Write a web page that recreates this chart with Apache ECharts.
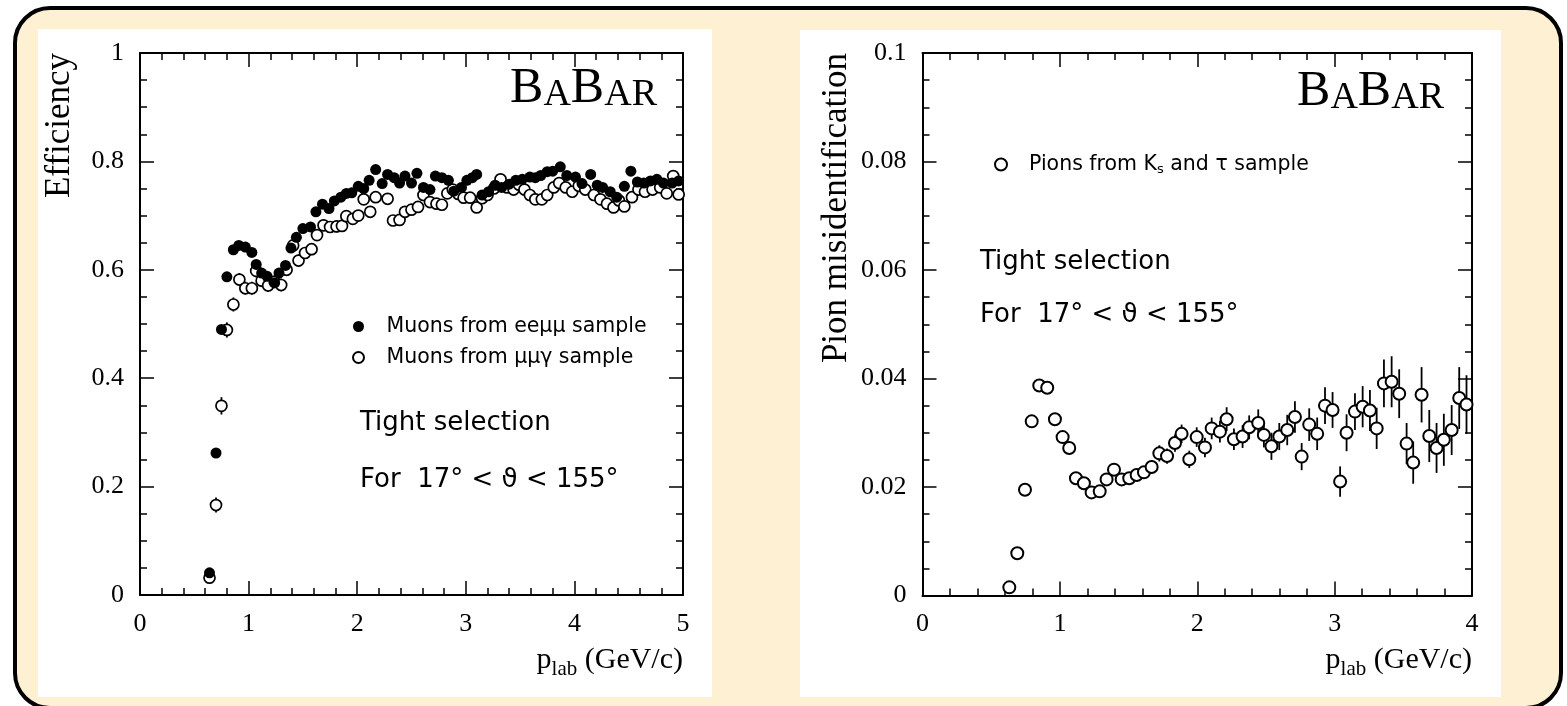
<!DOCTYPE html>
<html>
<head>
<meta charset="utf-8">
<title>Muon efficiency and pion misidentification</title>
<script src="https://cdn.jsdelivr.net/npm/echarts@6/dist/echarts.min.js"></script>
<style>
  html, body { margin: 0; padding: 0; background: #fff; }
  #chart { width: 1567px; height: 706px; }
</style>
</head>
<body>
<div id="chart"></div>
<script>
// left panel: muon efficiency, two samples
var muEeP = [0.64, 0.70, 0.75, 0.80, 0.86, 0.91, 0.97, 1.03, 1.07, 1.12,
    1.17, 1.24, 1.28, 1.34, 1.39, 1.44, 1.50, 1.57, 1.62, 1.68,
    1.74, 1.79, 1.85, 1.90, 1.95, 2.01, 2.06, 2.11, 2.17, 2.23,
    2.28, 2.34, 2.39, 2.44, 2.50, 2.55, 2.61, 2.67, 2.72, 2.78,
    2.84, 2.89, 2.96, 3.01, 3.06, 3.10, 3.15, 3.21, 3.27, 3.33,
    3.40, 3.46, 3.52, 3.59, 3.64, 3.69, 3.75, 3.80, 3.87, 3.93,
    4.01, 4.07, 4.15, 4.21, 4.26, 4.33, 4.39, 4.46, 4.52, 4.58,
    4.64, 4.70, 4.76, 4.82, 4.90, 4.96];
var muEeEff = [0.041, 0.262, 0.490, 0.587, 0.637, 0.645, 0.642, 0.632, 0.610, 0.594,
    0.588, 0.576, 0.594, 0.608, 0.640, 0.660, 0.676, 0.679, 0.707, 0.721,
    0.713, 0.727, 0.734, 0.741, 0.742, 0.754, 0.750, 0.765, 0.785, 0.759,
    0.776, 0.770, 0.760, 0.773, 0.760, 0.778, 0.752, 0.748, 0.773, 0.770,
    0.765, 0.745, 0.752, 0.765, 0.770, 0.776, 0.738, 0.744, 0.756, 0.752,
    0.758, 0.765, 0.767, 0.771, 0.770, 0.774, 0.781, 0.782, 0.790, 0.774,
    0.771, 0.759, 0.776, 0.756, 0.752, 0.744, 0.734, 0.754, 0.782, 0.762,
    0.760, 0.764, 0.767, 0.760, 0.760, 0.764];

var muGamP = [0.64, 0.70, 0.75, 0.80, 0.86, 0.915, 0.97, 1.03, 1.07, 1.12,
    1.18, 1.24, 1.30, 1.35, 1.41, 1.46, 1.52, 1.58, 1.63, 1.69,
    1.75, 1.81, 1.86, 1.90, 1.96, 2.01, 2.06, 2.12, 2.17, 2.28,
    2.33, 2.39, 2.44, 2.50, 2.56, 2.61, 2.67, 2.73, 2.78, 2.83,
    2.88, 2.93, 2.98, 3.04, 3.10, 3.15, 3.20, 3.26, 3.32, 3.38,
    3.44, 3.49, 3.54, 3.59, 3.64, 3.70, 3.75, 3.81, 3.86, 3.92,
    3.98, 4.04, 4.10, 4.18, 4.24, 4.30, 4.36, 4.41, 4.46, 4.53,
    4.59, 4.65, 4.72, 4.79, 4.85, 4.91, 4.96];
var muGamEff = [0.032, 0.166, 0.349, 0.489, 0.536, 0.582, 0.566, 0.566, 0.598, 0.580,
    0.571, 0.578, 0.572, 0.600, 0.645, 0.617, 0.631, 0.638, 0.664, 0.682,
    0.679, 0.680, 0.681, 0.699, 0.694, 0.700, 0.730, 0.707, 0.734, 0.731,
    0.691, 0.692, 0.707, 0.711, 0.716, 0.738, 0.725, 0.722, 0.720, 0.741,
    0.748, 0.740, 0.733, 0.733, 0.715, 0.732, 0.738, 0.750, 0.767, 0.752,
    0.748, 0.757, 0.748, 0.738, 0.730, 0.730, 0.738, 0.752, 0.760, 0.752,
    0.744, 0.755, 0.748, 0.738, 0.730, 0.722, 0.715, 0.728, 0.717, 0.734,
    0.748, 0.744, 0.748, 0.752, 0.741, 0.773, 0.739];
var muGamErr = [0.006, 0.014, 0.016, 0.014, 0.013, 0.012, 0.012, 0.012, 0.012, 0.012,
    0.012, 0.012, 0.012, 0.011, 0.011, 0.011, 0.011, 0.011, 0.011, 0.011,
    0.011, 0.011, 0.010, 0.010, 0.010, 0.010, 0.010, 0.010, 0.010, 0.010,
    0.010, 0.010, 0.010, 0.010, 0.010, 0.010, 0.010, 0.010, 0.010, 0.010,
    0.010, 0.010, 0.010, 0.010, 0.010, 0.010, 0.010, 0.010, 0.010, 0.010,
    0.010, 0.010, 0.010, 0.010, 0.010, 0.010, 0.010, 0.010, 0.010, 0.010,
    0.010, 0.010, 0.010, 0.010, 0.010, 0.010, 0.010, 0.010, 0.010, 0.010,
    0.010, 0.010, 0.010, 0.010, 0.010, 0.010, 0.010];

// right panel: pion misidentification
var pionP = [0.632, 0.69, 0.746, 0.795, 0.85, 0.908, 0.964, 1.02, 1.068, 1.117,
    1.175, 1.231, 1.29, 1.34, 1.394, 1.45, 1.505, 1.559, 1.612, 1.668,
    1.724, 1.78, 1.838, 1.886, 1.942, 1.996, 2.056, 2.105, 2.165, 2.214,
    2.267, 2.33, 2.378, 2.444, 2.485, 2.54, 2.597, 2.655, 2.711, 2.76,
    2.815, 2.873, 2.93, 2.985, 3.04, 3.087, 3.148, 3.204, 3.257, 3.306,
    3.359, 3.415, 3.47, 3.524, 3.572, 3.633, 3.689, 3.742, 3.795, 3.852,
    3.907, 3.96];
var pionMis = [0.0015, 0.0078, 0.0195, 0.0321, 0.0387, 0.0383, 0.0325, 0.0292, 0.0272, 0.0216,
    0.0207, 0.019, 0.0192, 0.0214, 0.0232, 0.0214, 0.0216, 0.0222, 0.0227, 0.0237,
    0.0262, 0.0257, 0.0281, 0.0298, 0.0251, 0.0292, 0.0273, 0.0308, 0.0302, 0.0325,
    0.0288, 0.0293, 0.031, 0.0318, 0.0296, 0.0275, 0.0293, 0.0305, 0.0329, 0.0256,
    0.0315, 0.0298, 0.035, 0.0342, 0.021, 0.030, 0.0339, 0.0348, 0.0341, 0.0308,
    0.0391, 0.0394, 0.0372, 0.028, 0.0245, 0.037, 0.0294, 0.0272, 0.0287, 0.0305,
    0.0364, 0.0352];
var pionErr = [0.0004, 0.0005, 0.0006, 0.0008, 0.0009, 0.0009, 0.0009, 0.0009, 0.0009, 0.0009,
    0.0009, 0.0009, 0.0009, 0.001, 0.001, 0.001, 0.001, 0.0011, 0.0011, 0.0012,
    0.0015, 0.0014, 0.0016, 0.0017, 0.0016, 0.0018, 0.0018, 0.002, 0.002, 0.0022,
    0.002, 0.0021, 0.0022, 0.0025, 0.0023, 0.0025, 0.0025, 0.0028, 0.0029, 0.0025,
    0.003, 0.003, 0.0034, 0.0033, 0.0028, 0.0034, 0.0034, 0.0038, 0.0038, 0.0038,
    0.0044, 0.0047, 0.0045, 0.0038, 0.0039, 0.0051, 0.0048, 0.0046, 0.0048, 0.0046,
    0.0057, 0.0054];

var serif = "'Liberation Serif', 'Times New Roman', serif";
var sans = "'DejaVu Sans', sans-serif";

var zip = function (xs, ys) {
    return xs.map(function (x, i) { return [x, ys[i]]; });
};

// value axis in ROOT style: ticks pointing inward, mirrored on the far side
var makeAxis = function (grid, pos, max, step, minorSplit, labels) {
    return {
        type: 'value', gridIndex: grid, position: pos,
        min: 0, max: max, interval: step,
        axisLine: { show: true, onZero: false, lineStyle: { color: '#000', width: 2 } },
        axisTick: { show: true, inside: true, length: 14, lineStyle: { color: '#000', width: 1.5 } },
        minorTick: { show: true, splitNumber: minorSplit, length: 7, lineStyle: { color: '#000', width: 1.5 } },
        splitLine: { show: false },
        axisLabel: { show: labels, color: '#000', fontFamily: serif, fontSize: 26, margin: 16 }
    };
};

var errorBars = function (xs, ys, errs, xi, yi) {
    return {
        type: 'custom', xAxisIndex: xi, yAxisIndex: yi, z: 2, silent: true,
        data: xs.map(function (x, i) { return [x, ys[i] - errs[i], ys[i] + errs[i]]; }),
        renderItem: function (params, api) {
            var lo = api.coord([api.value(0), api.value(1)]);
            var hi = api.coord([api.value(0), api.value(2)]);
            return {
                type: 'line',
                shape: { x1: lo[0], y1: lo[1], x2: hi[0], y2: hi[1] },
                style: { stroke: '#000', lineWidth: 1.8 }
            };
        }
    };
};

var text = function (x, y, str, font, extra) {
    var style = { text: str, font: font, fill: '#000', align: 'left', verticalAlign: 'middle' };
    for (var k in extra) style[k] = extra[k];
    return { type: 'text', x: x, y: y, z: 100, style: style };
};

var babar = function (x, y) {
    return text(x, y, '{b|B}{s|A}{b|B}{s|AR}', '50px ' + serif, {
        align: 'right', verticalAlign: 'bottom',
        rich: {
            b: { fontFamily: serif, fontSize: 50, lineHeight: 50, verticalAlign: 'bottom' },
            s: { fontFamily: serif, fontSize: 38, lineHeight: 42, verticalAlign: 'bottom' }
        }
    });
};

var plab = function (x, y) {
    return text(x, y, '{m|p}{s|lab}{m| (GeV/c)}', '30px ' + serif, {
        align: 'right', verticalAlign: 'middle',
        rich: {
            m: { fontFamily: serif, fontSize: 30, lineHeight: 40, verticalAlign: 'middle' },
            s: { fontFamily: serif, fontSize: 21, lineHeight: 21, verticalAlign: 'bottom' }
        }
    });
};

var yTitle = function (x, y, str) {
    var t = text(x, y, str, '35px ' + serif, { align: 'right', verticalAlign: 'middle' });
    t.rotation = Math.PI / 2;
    return t;
};

var chart = echarts.init(document.getElementById('chart'));

chart.setOption({
    animation: false,
    backgroundColor: '#fff',
    grid: [
        { left: 140, top: 53, width: 543, height: 542 },
        { left: 922.5, top: 53, width: 549.5, height: 542.5 }
    ],
    xAxis: [
        makeAxis(0, 'bottom', 5, 1, 5, true),
        makeAxis(0, 'top', 5, 1, 5, false),
        makeAxis(1, 'bottom', 4, 1, 5, true),
        makeAxis(1, 'top', 4, 1, 5, false)
    ],
    yAxis: [
        makeAxis(0, 'left', 1, 0.2, 4, true),
        makeAxis(0, 'right', 1, 0.2, 4, false),
        makeAxis(1, 'left', 0.1, 0.02, 4, true),
        makeAxis(1, 'right', 0.1, 0.02, 4, false)
    ],
    legend: [
        {
            data: ['Muons from eeμμ sample', 'Muons from μμγ sample'],
            orient: 'vertical', left: 352, top: 316, padding: 0,
            itemWidth: 46, itemHeight: 11, itemGap: 10, selectedMode: false,
            textStyle: { fontFamily: sans, fontSize: 20.5, lineHeight: 18, color: '#000' }
        },
        {
            data: ['Pions from Ks and τ sample'],
            orient: 'vertical', left: 994, top: 154, padding: 0,
            itemWidth: 46, itemHeight: 12, selectedMode: false,
            formatter: function () { return '{a|Pions from K}{s|s}{a| and τ sample}'; },
            textStyle: {
                fontFamily: sans, fontSize: 20.5, color: '#000',
                rich: {
                    a: { fontFamily: sans, fontSize: 20.5, lineHeight: 24, verticalAlign: 'middle' },
                    s: { fontFamily: sans, fontSize: 13, lineHeight: 13, verticalAlign: 'bottom' }
                }
            }
        }
    ],
    graphic: [
        { type: 'rect', z: -100, shape: { x: 15, y: 8, width: 1546, height: 700, r: 35 },
          style: { fill: '#fef1d3', stroke: '#000', lineWidth: 4 } },
        { type: 'rect', z: -90, shape: { x: 38, y: 29, width: 674, height: 668 }, style: { fill: '#fff' } },
        { type: 'rect', z: -90, shape: { x: 800, y: 30, width: 701, height: 667 }, style: { fill: '#fff' } },
        yTitle(60, 53, 'Efficiency'),
        yTitle(837, 53, 'Pion misidentification'),
        plab(683, 660),
        plab(1472, 660),
        babar(657, 114),
        babar(1444, 117),
        text(360, 423, 'Tight selection', '26px ' + sans),
        text(360, 480, 'For  17° < ϑ < 155°', '26px ' + sans),
        text(980, 262, 'Tight selection', '26px ' + sans),
        text(980, 315, 'For  17° < ϑ < 155°', '26px ' + sans)
    ],
    series: [
        errorBars(muGamP, muGamEff, muGamErr, 0, 0),
        {
            name: 'Muons from μμγ sample', type: 'scatter', xAxisIndex: 0, yAxisIndex: 0, z: 3,
            symbol: 'circle', symbolSize: 11,
            itemStyle: { color: '#fff', borderColor: '#000', borderWidth: 1.7, opacity: 1 },
            data: zip(muGamP, muGamEff)
        },
        {
            name: 'Muons from eeμμ sample', type: 'scatter', xAxisIndex: 0, yAxisIndex: 0, z: 4,
            symbol: 'circle', symbolSize: 11,
            itemStyle: { color: '#000', opacity: 1 },
            data: zip(muEeP, muEeEff)
        },
        errorBars(pionP, pionMis, pionErr, 2, 2),
        {
            name: 'Pions from Ks and τ sample', type: 'scatter', xAxisIndex: 2, yAxisIndex: 2, z: 3,
            symbol: 'circle', symbolSize: 12,
            itemStyle: { color: '#fff', borderColor: '#000', borderWidth: 2, opacity: 1 },
            data: zip(pionP, pionMis)
        }
    ]
});
</script>
</body>
</html>
